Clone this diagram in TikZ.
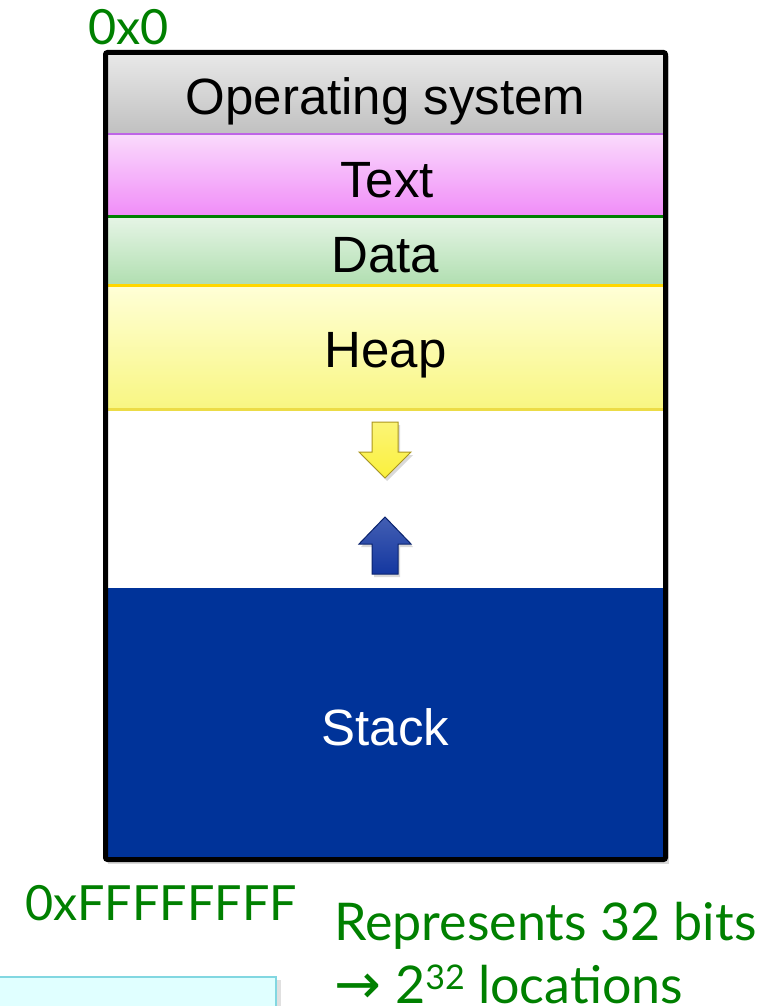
\documentclass[tikz,border=0pt]{standalone}
\usepackage{fontspec}
\setmainfont{Liberation Sans}
\newfontfamily\labelfont{Lato}
\newfontfamily\symfont{DejaVu Sans}
\definecolor{addrgreen}{RGB}{0,128,0}
\definecolor{stackblue}{RGB}{0,51,153}
\definecolor{arrowblue}{RGB}{20,55,160}
\definecolor{arrowbluedark}{RGB}{10,35,110}
\definecolor{arrowyellow}{RGB}{250,240,60}
\definecolor{arrowolive}{RGB}{170,150,30}
\definecolor{notecyan}{RGB}{224,255,255}
\definecolor{noteedge}{RGB}{130,215,225}
\definecolor{ostop}{RGB}{232,232,232}
\definecolor{osbot}{RGB}{192,192,192}
\definecolor{texttop}{RGB}{250,218,252}
\definecolor{textbot}{RGB}{240,140,248}
\definecolor{datatop}{RGB}{230,245,230}
\definecolor{databot}{RGB}{176,222,176}
\definecolor{heaptop}{RGB}{255,255,215}
\definecolor{heapbot}{RGB}{248,246,130}
\definecolor{purpleline}{RGB}{190,100,230}
\definecolor{goldline}{RGB}{255,215,0}
\definecolor{heapline}{RGB}{236,220,70}
\tikzset{
  seg/.style={minimum width=555pt, inner sep=0pt, outer sep=0pt},
  segtext/.style={anchor=base, inner sep=0pt, font=\fontsize{51}{56}\selectfont},
  addr/.style={text=addrgreen, inner sep=0pt, anchor=base west,
    font=\labelfont\fontsize{48.5}{56}\selectfont},
  note/.style={text=addrgreen, inner sep=0pt, anchor=base west,
    font=\labelfont\fontsize{52}{58}\selectfont},
}
\begin{document}
\begin{tikzpicture}[x=1pt, y=-1pt]
\useasboundingbox (0,0) rectangle (778,1006);

% soft shadow behind the memory block, then a white interior
\fill[black, opacity=0.15] (108,56) rectangle (669,864);
\fill[white] (105.5,52.5) rectangle (665.5,859.5);

% address-space segments
\node[seg, top color=ostop, bottom color=osbot, minimum height=80pt] (os) at (385.5,94.5) {};
\node[seg, top color=texttop, bottom color=textbot, minimum height=82pt] (txt) at (385.5,175.5) {};
\node[seg, top color=datatop, bottom color=databot, minimum height=69pt] (data) at (385.5,251) {};
\node[seg, top color=heaptop, bottom color=heapbot, minimum height=124pt] (heap) at (385.5,347) {};
\node[seg, fill=stackblue, minimum height=270pt] (stack) at (385.5,723) {};

% segment names
\node[segtext] (oslbl) at (385.5,115) {Operating system};
\node[segtext] (txtlbl) at (387,197) {Text};
\node[segtext] (datalbl) at (385.5,272) {Data};
\node[segtext] (heaplbl) at (385.5,367) {Heap};
\node[segtext, text=white] (stacklbl) at (385.5,745) {Stack};

% separator lines between segments
\draw[line width=2pt, purpleline] (os.south west) -- (os.south east);
\draw[line width=2.5pt, addrgreen] (txt.south west) -- (txt.south east);
\draw[line width=2.5pt, goldline] (data.south west) -- (data.south east);
\draw[line width=3pt, heapline] (heap.south west) -- (heap.south east);

% growth arrows: heap downwards, stack upwards
\fill[black, opacity=0.15] (374,425) -- (400,425) -- (400,455) -- (413,455) -- (387,481) -- (361,455) -- (374,455) -- cycle;
\draw[arrowolive, line width=1pt, top color=arrowyellow!70!white, bottom color=arrowyellow]
  (372,422) -- (398,422) -- (398,452) -- (411,452) -- (385,478) -- (359,452) -- (372,452) -- cycle;
\fill[black, opacity=0.15] (374,577) -- (400,577) -- (400,547) -- (413,547) -- (387,520) -- (361,547) -- (374,547) -- cycle;
\draw[arrowbluedark, line width=1pt, top color=arrowblue!80!white, bottom color=arrowblue]
  (372,574) -- (398,574) -- (398,544) -- (411,544) -- (385,517) -- (359,544) -- (372,544) -- cycle;

% outer frame of the address space
\draw[line width=5pt, rounded corners=2pt] (105.5,52.5) rectangle (665.5,859.5);

% address labels
\node[addr] (low) at (88,45) {0x0};
\node[addr] (high) at (25,920) {0xFFFFFFFF};
\node[note] (bits) at (334,940) {Represents 32 bits};
\node[note] (locs) at (334,1003) {{\symfont\fontsize{56}{56}\selectfont →}\hspace{14pt}2\raisebox{14pt}{\fontsize{34}{34}\selectfont 32} locations};

% note box at the lower left
\fill[black, opacity=0.12] (-5,980) rectangle (281,1015);
\draw[noteedge, line width=2pt, fill=notecyan] (-5,977) rectangle (276,1015);
\end{tikzpicture}
\end{document}
